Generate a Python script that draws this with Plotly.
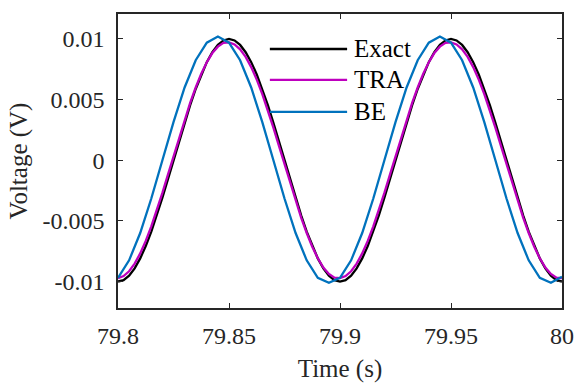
import numpy as np
import plotly.graph_objects as go

# ---- data ----
t_exact = np.round(np.arange(81) * 0.0025 + 79.8, 5)
exact_mV = [-10, -9.88, -9.51, -8.91, -8.09, -7.07, -5.88, -4.54, -3.09, -1.56,
            0, 1.56, 3.09, 4.54, 5.88, 7.07, 8.09, 8.91, 9.51, 9.88,
            10, 9.88, 9.51, 8.91, 8.09, 7.07, 5.88, 4.54, 3.09, 1.56,
            0, -1.56, -3.09, -4.54, -5.88, -7.07, -8.09, -8.91, -9.51, -9.88,
            -10, -9.88, -9.51, -8.91, -8.09, -7.07, -5.88, -4.54, -3.09, -1.56,
            0, 1.56, 3.09, 4.54, 5.88, 7.07, 8.09, 8.91, 9.51, 9.88,
            10, 9.88, 9.51, 8.91, 8.09, 7.07, 5.88, 4.54, 3.09, 1.56,
            0, -1.56, -3.09, -4.54, -5.88, -7.07, -8.09, -8.91, -9.51, -9.88,
            -10]

t_tra = np.round(np.arange(81) * 0.0025 + 79.8, 5)
tra_mV = [-9.72, -9.55, -9.15, -8.52, -7.68, -6.65, -5.45, -4.12, -2.69, -1.19,
          0.34, 1.86, 3.33, 4.73, 6.00, 7.13, 8.08, 8.84, 9.37, 9.68,
          9.72, 9.55, 9.15, 8.52, 7.68, 6.65, 5.45, 4.12, 2.69, 1.19,
          -0.34, -1.86, -3.33, -4.73, -6.00, -7.13, -8.08, -8.84, -9.37, -9.68,
          -9.72, -9.55, -9.15, -8.52, -7.68, -6.65, -5.45, -4.12, -2.69, -1.19,
          0.34, 1.86, 3.33, 4.73, 6.00, 7.13, 8.08, 8.84, 9.37, 9.68,
          9.72, 9.55, 9.15, 8.52, 7.68, 6.65, 5.45, 4.12, 2.69, 1.19,
          -0.34, -1.86, -3.33, -4.73, -6.00, -7.13, -8.08, -8.84, -9.37, -9.68,
          -9.72]

t_be = np.round(np.arange(41) * 0.005 + 79.8, 5)
be_mV = [-9.70, -8.25, -6.00, -3.15, 0, 3.15, 6.00, 8.25, 9.70, 10.2,
         9.70, 8.25, 6.00, 3.15, 0, -3.15, -6.00, -8.25, -9.70, -10.1,
         -9.70, -8.25, -6.00, -3.15, 0, 3.15, 6.00, 8.25, 9.70, 10.2,
         9.70, 8.25, 6.00, 3.15, 0, -3.15, -6.00, -8.25, -9.70, -10.1,
         -9.60]

series_names = ["Exact", "TRA", "BE"]
x_ticks = [79.8, 79.85, 79.9, 79.95, 80]
x_ticktext = ["79.8", "79.85", "79.9", "79.95", "80"]
y_ticks = [-0.01, -0.005, 0, 0.005, 0.01]
y_ticktext = ["-0.01", "-0.005", "0", "0.005", "0.01"]

colors = ["#000000", "#BE00BE", "#0072BD"]
FONT = "Liberation Serif, Times New Roman, serif"
AXC = "#262626"

fig = go.Figure()
for name, t, v, c in zip(series_names, [t_exact, t_tra, t_be],
                         [exact_mV, tra_mV, be_mV], colors):
    fig.add_trace(go.Scatter(x=t, y=np.array(v) / 1000.0, mode="lines", name=name,
                             line=dict(color=c, width=2.3), showlegend=False))

# manual legend (long line samples like the reference)
leg_y = [0.881, 0.776, 0.667]
for name, c, yy in zip(series_names, colors, leg_y):
    fig.add_shape(type="line", xref="paper", yref="paper", x0=0.342, x1=0.516,
                  y0=yy, y1=yy, line=dict(color=c, width=2.3))
    fig.add_annotation(xref="paper", yref="paper", x=0.527, y=yy, text=name,
                       showarrow=False, xanchor="left", yanchor="middle",
                       font=dict(family=FONT, size=25, color="#000000"))


def axis_style():
    return dict(showline=True, linecolor=AXC, linewidth=1.6, mirror="ticks",
                ticks="inside", ticklen=5, tickwidth=1.4, tickcolor=AXC,
                showgrid=False, zeroline=False, automargin=False,
                tickfont=dict(family=FONT, size=24, color=AXC))


fig.update_layout(
    template="none",
    width=574, height=383,
    font=dict(family=FONT, size=24, color=AXC),
    margin=dict(l=118, r=12, t=14, b=75),
    paper_bgcolor="white", plot_bgcolor="white",
    xaxis=dict(range=[79.8, 80], tickvals=x_ticks, ticktext=x_ticktext,
               ticklabelstandoff=5,
               title=dict(text="Time (s)", font=dict(family=FONT, size=25, color=AXC),
                          standoff=13),
               **axis_style()),
    yaxis=dict(range=[-0.01218, 0.01206], tickvals=y_ticks, ticktext=y_ticktext,
               ticklabelstandoff=7,
               title=dict(text="Voltage (V)", font=dict(family=FONT, size=25, color=AXC),
                          standoff=8),
               **axis_style()),
)

fig.write_html("out.html")
